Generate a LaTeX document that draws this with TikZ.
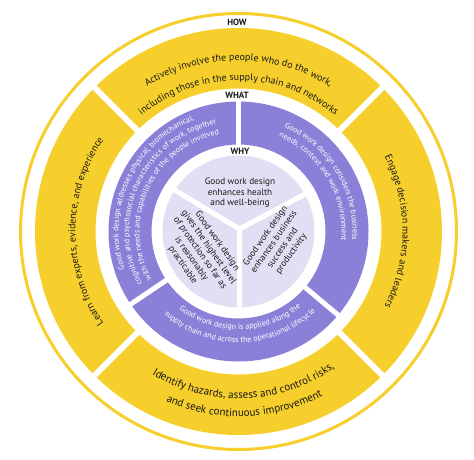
\documentclass[tikz,border=0pt]{standalone}
\usepackage{fontspec}
\setmainfont{PT Sans}
\usetikzlibrary{decorations.text}
\definecolor{gold}{HTML}{F6CF2C}
\definecolor{lav}{HTML}{8A80D8}
\definecolor{lavlight}{HTML}{E4DEF4}
\definecolor{ink}{HTML}{1A1A1A}
\newcommand\yf{\fontsize{10}{12}\selectfont\color{ink}}
\newcommand\yfb{\fontsize{11}{13}\selectfont\color{ink}}
\newcommand\pf{\fontsize{8}{9.5}\selectfont\color{white}}
\begin{document}
\begin{tikzpicture}[x=1pt,y=1pt,
  arctext/.style={decorate, decoration={text along path, text align=center, text={#1}}},
  headlbl/.style={font=\fontsize{9}{10}\selectfont\bfseries, text=ink, inner sep=0pt},
  whytext/.style={font=\fontsize{9.2}{10.5}\selectfont, text=ink, align=center, inner sep=0pt}]
\useasboundingbox (0,0) rectangle (474,459);
\fill[white] (0,0) rectangle (474,459);
\coordinate (c) at (238.5,227.5);
\coordinate (s) at (239.5,230);
% outer thin ring
\draw[gold, line width=3] (c) circle[radius=218];
% yellow HOW ring
\fill[gold, even odd rule] (c) circle[radius=203.5] (c) circle[radius=143];
\foreach \a in {45,135,225,315} \draw[white, line width=6] (c) ++(\a:139) -- ++(\a:70);
% purple WHAT ring
\fill[lav, even odd rule] (c) circle[radius=130] (c) circle[radius=87];
\foreach \a in {90,214,320} \draw[white, line width=5] (c) ++(\a:84) -- ++(\a:50);
% light WHY disc
\fill[lavlight] (c) circle[radius=76];
\foreach \a in {28,149,270} \draw[white, line width=5] (s) -- ++(\a:82);
% labels
\node[headlbl] (how) at (237,437) {HOW};
\node[headlbl] (what) at (237,364) {WHAT};
\node[headlbl] (why) at (240,308) {WHY};
% yellow texts
\path[arctext={|\yf|Actively involve the people who do the work,}] (c) ++(150:171) arc[start angle=150, end angle=30, radius=171];
\path[arctext={|\yf|including those in the supply chain and networks}] (c) ++(150:151) arc[start angle=150, end angle=30, radius=151];
\path[arctext={|\yfb|Identify hazards, assess and control risks,}] (c) ++(210:167) arc[start angle=210, end angle=334, radius=167];
\path[arctext={|\yfb|and seek continuous improvement}] (c) ++(210:185) arc[start angle=210, end angle=334, radius=185];
\path[arctext={|\yf|Learn from experts, evidence, and experience}] (c) ++(240:163) arc[start angle=240, end angle=120, radius=163];
\path[arctext={|\yf|Engage decision makers and leaders}] (c) ++(60:164) arc[start angle=60, end angle=-60, radius=164];
% purple texts
\path[arctext={|\pf|Good work design addresses physical, biomechanical,}] (c) ++(240:120) arc[start angle=240, end angle=70, radius=120];
\path[arctext={|\pf|cognitive and psychosocial characteristics of work, together}] (c) ++(240:109.5) arc[start angle=240, end angle=70, radius=109.5];
\path[arctext={|\pf|with the needs and capabilities of the people involved}] (c) ++(240:99) arc[start angle=240, end angle=70, radius=99];
\path[arctext={|\pf|Good work design considers the business}] (c) ++(116:114) arc[start angle=116, end angle=-54, radius=114];
\path[arctext={|\pf|needs, context and work environment}] (c) ++(116:103) arc[start angle=116, end angle=-54, radius=103];
\path[arctext={|\pf|Good work design is applied along the}] (c) ++(186:98) arc[start angle=186, end angle=356, radius=98];
\path[arctext={|\pf|supply chain and across the operational lifecycle}] (c) ++(186:111) arc[start angle=186, end angle=356, radius=111];
% why texts
\node[whytext] (w1) at (240,266) {Good work design\\enhances health\\and well-being};
\node[whytext, rotate=-55] (w2) at (200,206) {Good work design\\gives the highest level\\of protection so far as\\is reasonably\\practicable};
\node[whytext, rotate=55] (w3) at (278.5,214) {Good work design\\enhances business\\success and\\productivity};
\end{tikzpicture}
\end{document}
